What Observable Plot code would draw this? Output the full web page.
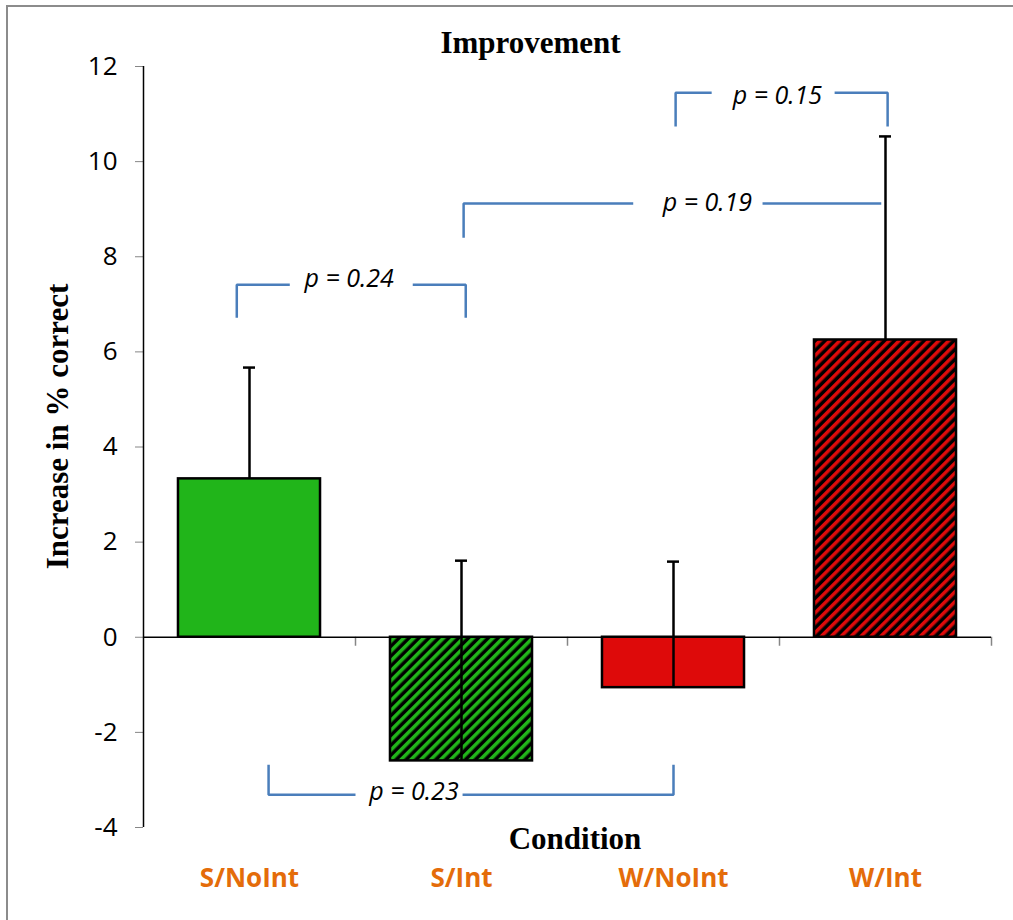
<!DOCTYPE html>
<html><head><meta charset="utf-8">
<script src="https://cdn.jsdelivr.net/npm/d3@7"></script>
<script src="https://cdn.jsdelivr.net/npm/@observablehq/plot@0.6"></script>
<style>
html,body{margin:0;padding:0;background:#fff;overflow:hidden;}
#wrap{position:relative;width:1013px;height:920px;overflow:hidden;}
#lineTop{position:absolute;left:6px;top:5px;width:1007px;height:2px;background:#8c8c8c;}
#lineLeft{position:absolute;left:6px;top:5px;width:2px;height:915px;background:#8c8c8c;}
#chart{position:absolute;left:0;top:0;}
</style></head><body>
<div id="wrap"><div id="lineTop"></div><div id="lineLeft"></div><div id="chart"></div></div>
<script>
// ---- data ----
const categories = ["S/NoInt", "S/Int", "W/NoInt", "W/Int"];
const means = [3.33, -2.60, -1.06, 6.25];
const errors = [2.34, 4.21, 2.65, 4.28];
const hatched = [false, true, false, true];
const yTicks = [-4, -2, 0, 2, 4, 6, 8, 10, 12];
const titleText = "Improvement";
const xLabel = "Condition";
const yLabel = "Increase in % correct";

// significance brackets (x in category index units, y in data units)
const pLabels = ["p = 0.24", "p = 0.19", "p = 0.15", "p = 0.23"];
const bracketLeft = [-0.06, 1.01, 2.01, 0.09];
const bracketRight = [1.02, 2.98, 3.01, 2.00];
const bracketLevel = [7.41, 9.12, 11.45, -3.31];
const bracketTip = [6.72, 8.40, 10.74, -2.68];
const rightDrop = [true, false, true, true];
const gapStart = [0.19, 1.81, 2.18, 0.50];
const gapEnd = [0.77, 2.42, 2.76, 1.005];
const labelX = [0.47, 2.16, 2.49, 0.776];
const labelY = [7.54, 9.14, 11.38, -3.25];

// ---- styles ----
const green = "#21B51A", red = "#DE0A0A", orange = "#E46C0A", blue = "#4A7EBB";
const baseColor = [green, green, red, red];
const barHalf = 0.335;
const idx = categories.map((_, i) => i);
const boundaries = [0.5, 1.5, 2.5, 3.5];

const segs = [];
pLabels.forEach((_, i) => {
  const L = bracketLeft[i], R = bracketRight[i], lev = bracketLevel[i], tip = bracketTip[i];
  segs.push({k: i + "a", x: L, y: tip}, {k: i + "a", x: L, y: lev}, {k: i + "a", x: gapStart[i], y: lev});
  segs.push({k: i + "b", x: gapEnd[i], y: lev}, {k: i + "b", x: R, y: lev});
  if (rightDrop[i]) segs.push({k: i + "b", x: R, y: tip});
});

const svg = Plot.plot({
  width: 1013,
  height: 920,
  marginLeft: 143,
  marginRight: 22,
  marginTop: 66,
  marginBottom: 93,
  style: {fontFamily: "'Open Sans', sans-serif", background: "transparent", overflow: "visible"},
  x: {type: "linear", domain: [-0.5, 3.5]},
  y: {type: "linear", domain: [-4, 12]},
  color: {type: "identity"},
  marks: [
    // y axis
    Plot.axisY({ticks: yTicks, tickFormat: d => String(d), tickSize: 8, tickPadding: 18,
      stroke: "#868686", fill: "black", fontSize: 26, fontFamily: "'Open Sans', sans-serif", label: null}),
    Plot.ruleX([-0.5], {stroke: "black", strokeWidth: 1.5}),
    // category labels
    Plot.axisX({ticks: idx, tickFormat: i => categories[i], tickSize: 0, tickPadding: 41,
      fill: orange, fontSize: 26, fontWeight: "bold", fontFamily: "'Open Sans', sans-serif", label: null}),
    // tick marks at the category boundaries on the zero line
    Plot.ruleX(boundaries, {x: d => d, y1: () => 0, y2: () => 0, insetBottom: -9, stroke: "#868686", strokeWidth: 1.5}),
    // bars
    Plot.rect(idx, {x1: i => i - barHalf, x2: i => i + barHalf, y1: () => 0, y2: i => means[i],
      fill: i => hatched[i] ? (baseColor[i] === green ? "url(#hatchGreen)" : "url(#hatchRed)") : baseColor[i],
      stroke: "black", strokeWidth: 2.5}),
    Plot.ruleY([0], {stroke: "black", strokeWidth: 1.5}),
    // error bars (upper only)
    Plot.ruleX(idx, {x: i => i, y1: i => means[i], y2: i => means[i] + errors[i], stroke: "black", strokeWidth: 2.5}),
    Plot.ruleY(idx, {y: i => means[i] + errors[i], x1: i => i, x2: i => i, insetLeft: -6, insetRight: -6, stroke: "black", strokeWidth: 2.5}),
    // brackets
    Plot.line(segs, {x: "x", y: "y", z: "k", stroke: blue, strokeWidth: 2.5, strokeLinecap: "butt", strokeLinejoin: "miter"}),
    Plot.text(pLabels, {x: (d, i) => labelX[i], y: (d, i) => labelY[i], text: d => d,
      fontStyle: "italic", fontSize: 25, fontFamily: "'Open Sans', sans-serif", fill: "black"}),
    // titles
    Plot.text([titleText], {text: d => d, frameAnchor: "top", lineAnchor: "bottom", textAnchor: "middle", dy: -14, dx: -37,
      fontFamily: "'Liberation Serif', serif", fontWeight: "bold", fontSize: 31, fill: "black"}),
    Plot.text([xLabel], {text: d => d, frameAnchor: "bottom", lineAnchor: "bottom", textAnchor: "middle", dy: 21, dx: 7.5,
      fontFamily: "'Liberation Serif', serif", fontWeight: "bold", fontSize: 31, fill: "black"}),
    Plot.text([yLabel], {text: d => d, frameAnchor: "left", lineAnchor: "bottom", textAnchor: "middle", rotate: -90, dx: -76, dy: -20.5,
      fontFamily: "'Liberation Serif', serif", fontWeight: "bold", fontSize: 31, fill: "black"})
  ]
});

const defs = d3.select(svg).insert("defs", ":first-child");
function hatch(id, color) {
  const p = defs.append("pattern").attr("id", id).attr("patternUnits", "userSpaceOnUse")
    .attr("width", 7).attr("height", 7).attr("patternTransform", "rotate(45)");
  p.append("rect").attr("width", 7).attr("height", 7).attr("fill", "black");
  p.append("rect").attr("width", 3.5).attr("height", 7).attr("fill", color);
}
hatch("hatchGreen", green);
hatch("hatchRed", red);

document.getElementById("chart").appendChild(svg);
</script>
</body></html>
